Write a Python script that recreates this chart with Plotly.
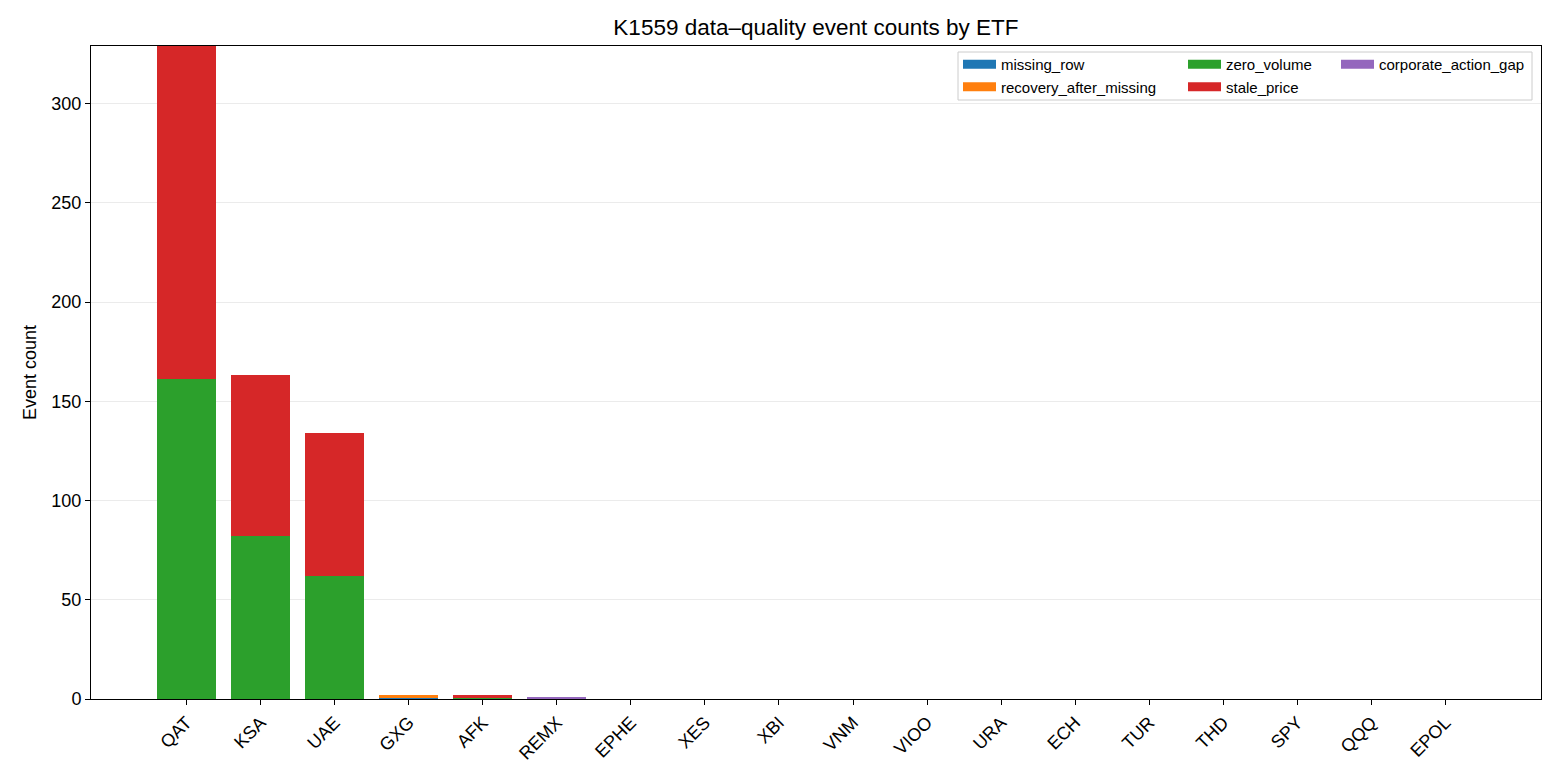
import plotly.graph_objects as go

etfs = ["QAT", "KSA", "UAE", "GXG", "AFK", "REMX", "EPHE", "XES", "XBI", "VNM",
        "VIOO", "URA", "ECH", "TUR", "THD", "SPY", "QQQ", "EPOL"]
missing_row = [0, 0, 0, 1, 0, 0, 0, 0, 0, 0, 0, 0, 0, 0, 0, 0, 0, 0]
recovery_after_missing = [0, 0, 0, 1, 0, 0, 0, 0, 0, 0, 0, 0, 0, 0, 0, 0, 0, 0]
zero_volume = [161, 82, 62, 0, 1, 0, 0, 0, 0, 0, 0, 0, 0, 0, 0, 0, 0, 0]
stale_price = [168, 81, 72, 0, 1, 0, 0, 0, 0, 0, 0, 0, 0, 0, 0, 0, 0, 0]
corporate_action_gap = [0, 0, 0, 0, 0, 1, 0, 0, 0, 0, 0, 0, 0, 0, 0, 0, 0, 0]

series = [
    ("missing_row", missing_row, "#1f77b4", "legend"),
    ("recovery_after_missing", recovery_after_missing, "#ff7f0e", "legend"),
    ("zero_volume", zero_volume, "#2ca02c", "legend2"),
    ("stale_price", stale_price, "#d62728", "legend2"),
    ("corporate_action_gap", corporate_action_gap, "#9467bd", "legend3"),
]

FONT = "Liberation Sans, Arial, sans-serif"

fig = go.Figure()
for name, vals, color, _ in series:
    fig.add_trace(go.Bar(x=etfs, y=vals, name=name, marker=dict(color=color, line=dict(width=0)),
                         width=0.8, showlegend=False))
# legend entries (wide patches like the reference)
for name, vals, color, leg in series:
    fig.add_trace(go.Scatter(x=[None], y=[None], mode="lines", name=name,
                             line=dict(color=color, width=9), legend=leg, showlegend=True))

total_max = max(a + b + c + d + e for a, b, c, d, e in zip(missing_row, recovery_after_missing,
                                                            zero_volume, stale_price, corporate_action_gap))

L, R, T, B = 91, 19, 46, 81
W, H = 1560, 780
pw, ph = W - L - R, H - T - B

def px_x(p):
    return (p - L) / pw

def px_y(p):
    return (H - B - p) / ph

legend_common = dict(
    bgcolor="rgba(0,0,0,0)", borderwidth=0, font=dict(family=FONT, size=15, color="#000"),
    orientation="v", xanchor="left", yanchor="top", y=px_y(48), itemwidth=33,
    tracegroupgap=0, traceorder="normal",
)

fig.update_layout(
    width=W, height=H,
    margin=dict(l=L, r=R, t=T, b=B),
    plot_bgcolor="white", paper_bgcolor="white",
    barmode="stack", bargap=0.2,
    font=dict(family=FONT, size=18, color="#000"),
    title=dict(text="K1559 data\u2013quality event counts by ETF", xref="paper", x=0.5, xanchor="center",
               y=1 - 27 / H, yanchor="middle", font=dict(family=FONT, size=22.5, color="#000")),
    xaxis=dict(
        type="category", range=[-1.29, len(etfs) - 1 + 1.29], tickangle=-45,
        showline=True, mirror=True, linecolor="black", linewidth=1,
        ticks="outside", ticklen=5, tickcolor="black", showgrid=False,
        tickfont=dict(family=FONT, size=18, color="#000"),
    ),
    yaxis=dict(
        range=[0, total_max], tickvals=[0, 50, 100, 150, 200, 250, 300],
        showline=True, mirror=True, linecolor="black", linewidth=1,
        ticks="outside", ticklen=5, tickcolor="black",
        showgrid=True, gridcolor="#ebebeb", gridwidth=1, zeroline=False,
        tickfont=dict(family=FONT, size=18, color="#000"),
        title=dict(text="Event count", font=dict(family=FONT, size=18, color="#000"), standoff=10),
    ),
    legend=dict(x=px_x(958), **legend_common),
    legend2=dict(x=px_x(1183), **legend_common),
    legend3=dict(x=px_x(1336), **legend_common),
    shapes=[dict(type="rect", xref="paper", yref="paper",
                 x0=px_x(958), x1=px_x(1532), y0=px_y(100), y1=px_y(52),
                 line=dict(color="#cccccc", width=1), fillcolor="rgba(255,255,255,0.8)",
                 layer="above")],
)

fig.write_html("out.html")
